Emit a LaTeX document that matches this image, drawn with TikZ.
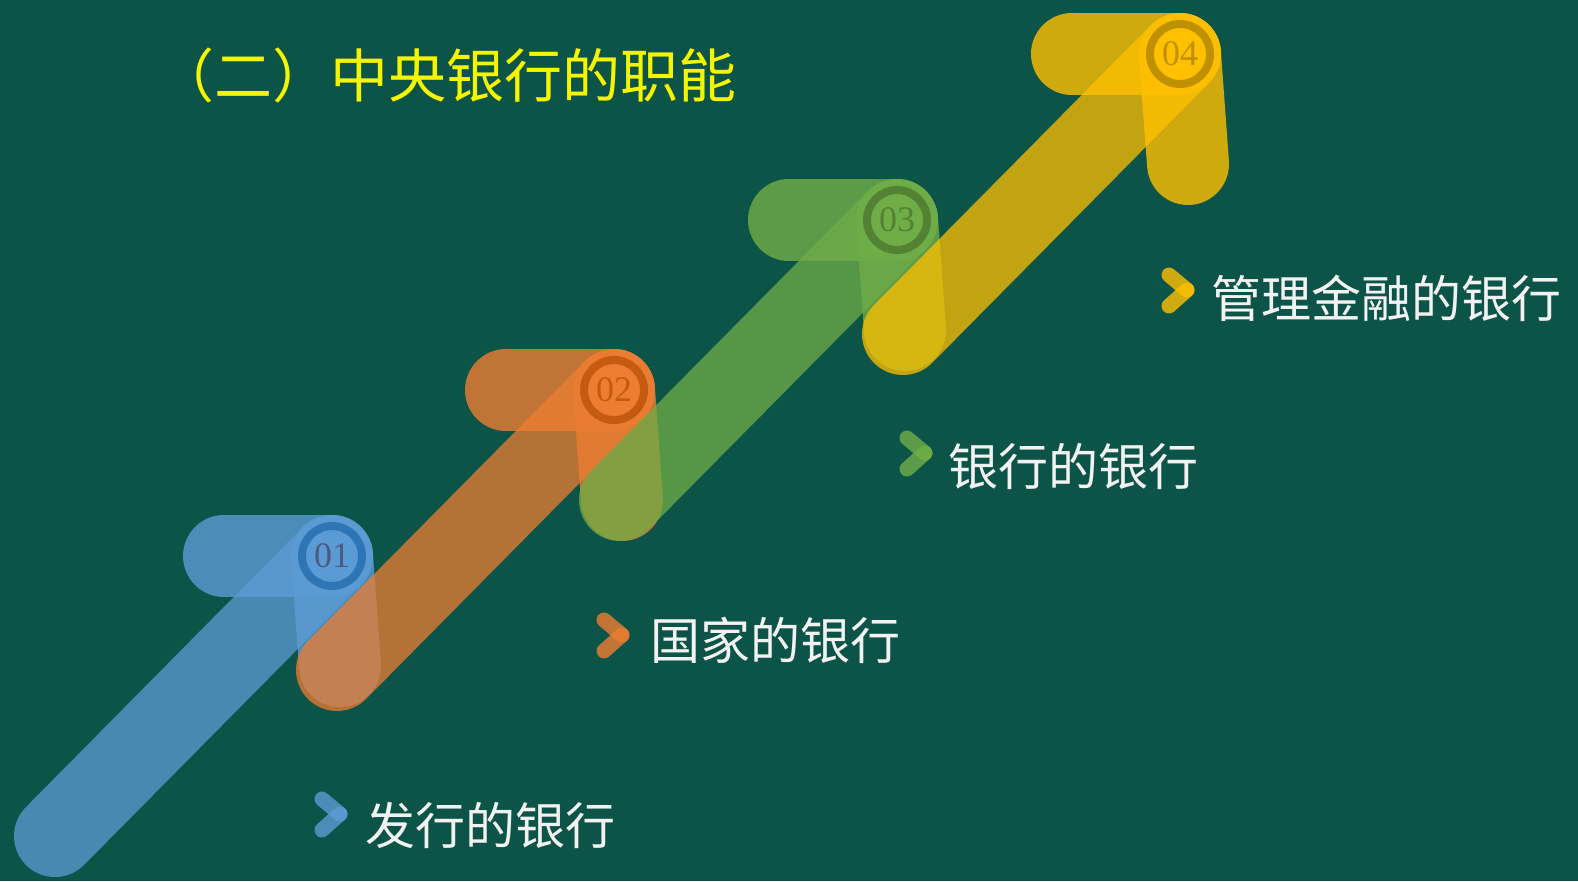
\documentclass[tikz,border=0pt]{standalone}
\usepackage{fontspec}
\usetikzlibrary{calc}
\newfontfamily\cjk{Noto Sans CJK SC}
\newfontfamily\numfont{Liberation Serif}
\definecolor{bg}{HTML}{0C5448}
\definecolor{cblue}{HTML}{5B9BD5}
\definecolor{rblue}{HTML}{2E75B6}
\definecolor{tblue}{HTML}{4C5A80}
\definecolor{corange}{HTML}{ED7D31}
\definecolor{rorange}{HTML}{C55A11}
\definecolor{cgreen}{HTML}{70AD47}
\definecolor{rgreen}{HTML}{548235}
\definecolor{cyellow}{HTML}{FFC000}
\definecolor{ryellow}{HTML}{BF9000}
\definecolor{titlecol}{HTML}{F5F500}
\definecolor{labelcol}{HTML}{F2F2F2}
\tikzset{
  band/.style={line width=82pt, line cap=round, draw opacity=0.8},
  shaft/.style={band, draw opacity=0.75},
  chev/.style={line width=15pt, line cap=round, draw opacity=0.8},
  badge/.style={circle, line width=8pt, minimum size=60pt, inner sep=0pt,
    font=\numfont\fontsize{36}{36}\selectfont},
  label/.style={anchor=base west, inner sep=0pt, text=labelcol,
    font=\cjk\fontsize{50}{50}\selectfont},
  heading/.style={anchor=base west, inner sep=0pt, text=titlecol,
    font=\cjk\fontsize{58}{58}\selectfont}
}
\begin{document}
\begin{tikzpicture}[x=1pt, y=-1pt]
  \fill[bg] (0,0) rectangle (1578,881);
  \useasboundingbox (0,0) rectangle (1578,881);
  \clip (0,0) rectangle (1578,881);

  % title
  \node[heading] (title) at (156,97) {（二）中央银行的职能};

  % four rising arrows, each with a numbered badge at its tip
  \foreach \tx/\ty/\c/\r/\t/\n in {
      332/556/cblue/rblue/tblue/01,
      614/390/corange/rorange/rorange/02,
      897/220/cgreen/rgreen/rgreen/03,
      1180/54/cyellow/ryellow/ryellow/04} {
    \coordinate (tip\n) at (\tx,\ty);
    \coordinate (tail\n) at ($(tip\n)+(-277,280)$);
    \coordinate (left\n) at ($(tip\n)+(-108,0)$);
    \coordinate (down\n) at ($(tip\n)+(8,110)$);
    \draw[shaft, \c] (tail\n) -- (tip\n);
    \draw[band, \c] (tip\n) -- (left\n);
    \draw[band, \c] (tip\n) -- (down\n);
    \node[badge, draw=\r, fill=\c, text=\t] (num\n) at (tip\n) {\n};
  }

  % chevron markers and labels
  \foreach \vx/\vy/\c/\n in {
      340/814/cblue/01,
      622/635/corange/02,
      925/453/cgreen/03,
      1187/290/cyellow/04} {
    \coordinate (cv\n) at (\vx,\vy);
    \coordinate (ct\n) at ($(cv\n)+(-18,-15)$);
    \coordinate (cb\n) at ($(cv\n)+(-18,16)$);
    \draw[chev, \c] (ct\n) -- (cv\n);
    \draw[chev, \c] (cv\n) -- (cb\n);
  }
  \node[label] (lab01) at (365,844) {发行的银行};
  \node[label] (lab02) at (650,659) {国家的银行};
  \node[label] (lab03) at (948,485) {银行的银行};
  \node[label] (lab04) at (1211,317) {管理金融的银行};
\end{tikzpicture}
\end{document}
